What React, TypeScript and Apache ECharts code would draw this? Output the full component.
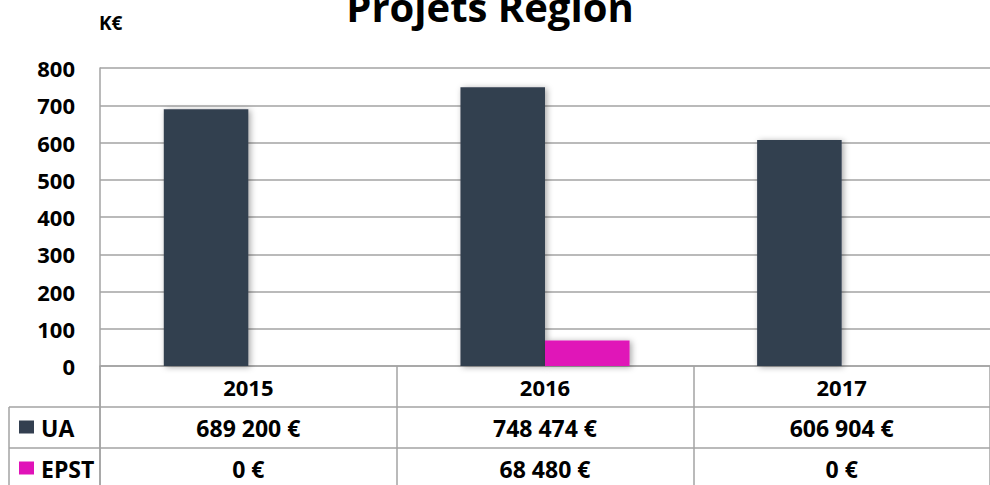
import React, { useEffect, useRef } from "react";
import * as echarts from "echarts";

const categories = ["2015", "2016", "2017"];
const seriesNames = ["UA", "EPST"];
const uaValues = [689200, 748474, 606904];
const epstValues = [0, 68480, 0];
const seriesColors = ["#333F50", "#E012B8"];
const titleText = "Projets Région";
const unitText = "K€";
const yMin = 0;
const yMax = 800;
const yStep = 100;

const FONT = "Open Sans";
const LINE = "#A3A3A3";

function fmtEuro(v: number): string {
  return v.toString().replace(/\B(?=(\d{3})+(?!\d))/g, " ") + " €";
}

export default function App() {
  const ref = useRef<HTMLDivElement>(null);
  useEffect(() => {
    const el = ref.current;
    if (!el) return;
    const chart = echarts.init(el, null, { renderer: "svg" });
    const allValues = [uaValues, epstValues];
    chart.setOption({
      animation: false,
      grid: { left: 100, right: -5, top: 68, bottom: 119, containLabel: false },
      xAxis: {
        type: "category",
        data: categories,
        axisLine: { show: true, lineStyle: { color: LINE, width: 1.5 } },
        axisTick: { show: true, length: 120, lineStyle: { color: LINE, width: 1.5 } },
        axisLabel: {
          margin: 10,
          lineHeight: 22,
          fontFamily: FONT,
          fontWeight: "bold",
          fontSize: 22,
          color: "#000",
        },
      },
      yAxis: {
        type: "value",
        min: yMin,
        max: yMax,
        interval: yStep,
        axisLine: { show: true, lineStyle: { color: LINE, width: 1.5 } },
        axisTick: { show: false },
        splitLine: { show: true, lineStyle: { color: LINE, width: 1.5 } },
        axisLabel: {
          margin: 25,
          fontFamily: FONT,
          fontWeight: "bold",
          fontSize: 22,
          color: "#000",
        },
      },
      series: seriesNames.map((name, i) => ({
        name,
        type: "bar",
        data: allValues[i].map((v) => v / 1000),
        barGap: 0,
        barCategoryGap: "43%",
        itemStyle: {
          color: seriesColors[i],
          shadowBlur: 6,
          shadowColor: "rgba(0,0,0,0.35)",
          shadowOffsetX: 2,
          shadowOffsetY: 1,
        },
      })),
    });

    const y0 = chart.convertToPixel({ yAxisIndex: 0 }, 0) as number;
    const xs = categories.map((c) => chart.convertToPixel({ xAxisIndex: 0 }, c) as number);
    const rowH = 41;
    const W = 990;
    const H = 485;
    const textStyle = (extra: any) => ({
      fontFamily: FONT,
      fontWeight: "bold",
      fontSize: 23,
      fill: "#000",
      ...extra,
    });
    const graphic: any[] = [
      {
        type: "text",
        x: 490,
        y: 6,
        style: textStyle({ text: titleText, fontSize: 40, align: "center", verticalAlign: "middle" }),
      },
      {
        type: "text",
        x: 99,
        y: 23,
        style: textStyle({ text: unitText, fontSize: 19, align: "left", verticalAlign: "middle" }),
      },
      {
        type: "line",
        shape: { x1: 100, y1: y0, x2: 100, y2: H },
        style: { stroke: LINE, lineWidth: 1.5 },
      },
      {
        type: "line",
        shape: { x1: 9, y1: y0 + rowH, x2: 9, y2: H },
        style: { stroke: LINE, lineWidth: 1.5 },
      },
    ];
    seriesNames.forEach((name, i) => {
      const top = y0 + rowH * (i + 1);
      const cy = top + rowH / 2;
      graphic.push({
        type: "line",
        shape: { x1: 9, y1: top, x2: W, y2: top },
        style: { stroke: LINE, lineWidth: 1.5 },
      });
      graphic.push({
        type: "rect",
        shape: { x: 19, y: cy - 7, width: 15, height: 13 },
        style: { fill: seriesColors[i] },
      });
      graphic.push({
        type: "text",
        x: 41,
        y: cy,
        style: textStyle({ text: name, align: "left", verticalAlign: "middle" }),
      });
      allValues[i].forEach((v, j) => {
        graphic.push({
          type: "text",
          x: xs[j],
          y: cy,
          style: textStyle({ text: fmtEuro(v), align: "center", verticalAlign: "middle" }),
        });
      });
    });
    chart.setOption({ graphic });
    return () => chart.dispose();
  }, []);
  return (
    <div
      ref={ref}
      style={{ position: "fixed", left: 0, top: 0, width: 990, height: 485, background: "#fff" }}
    />
  );
}
